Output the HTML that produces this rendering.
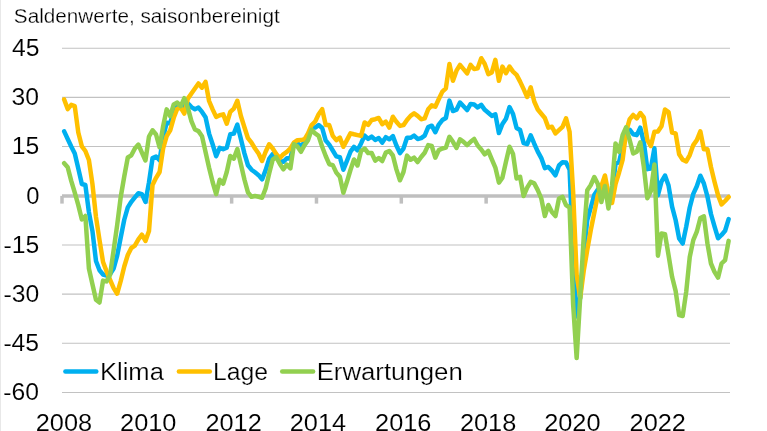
<!DOCTYPE html><html><head><meta charset="utf-8"><title>chart</title><style>
html,body{margin:0;padding:0;background:#fff}
body{width:767px;height:431px;overflow:hidden;position:relative;font-family:"Liberation Sans",sans-serif;color:#000}
svg{display:block}
</style></head><body>
<svg width="767" height="431" viewBox="0 0 767 431" style="position:absolute;left:0;top:0">
<rect x="0" y="0" width="767" height="431" fill="#fff"/>
<rect x="0" y="0" width="1" height="431" fill="#e8e8e8"/>
<line x1="62.0" y1="48.20" x2="730.0" y2="48.20" stroke="#c2c2c2" stroke-width="1.05"/>
<line x1="62.0" y1="97.39" x2="730.0" y2="97.39" stroke="#c2c2c2" stroke-width="1.05"/>
<line x1="62.0" y1="146.57" x2="730.0" y2="146.57" stroke="#c2c2c2" stroke-width="1.05"/>
<line x1="62.0" y1="244.94" x2="730.0" y2="244.94" stroke="#c2c2c2" stroke-width="1.05"/>
<line x1="62.0" y1="294.13" x2="730.0" y2="294.13" stroke="#c2c2c2" stroke-width="1.05"/>
<line x1="62.0" y1="343.31" x2="730.0" y2="343.31" stroke="#c2c2c2" stroke-width="1.05"/>
<line x1="62.0" y1="392.50" x2="730.0" y2="392.50" stroke="#c2c2c2" stroke-width="1.05"/>
<line x1="62.0" y1="195.90" x2="730.0" y2="195.90" stroke="#bfbfbf" stroke-width="3.5"/>
<line x1="62.00" y1="195.90" x2="62.00" y2="203.6" stroke="#bfbfbf" stroke-width="3.5"/>
<line x1="146.83" y1="195.90" x2="146.83" y2="203.6" stroke="#bfbfbf" stroke-width="3.5"/>
<line x1="231.65" y1="195.90" x2="231.65" y2="203.6" stroke="#bfbfbf" stroke-width="3.5"/>
<line x1="316.48" y1="195.90" x2="316.48" y2="203.6" stroke="#bfbfbf" stroke-width="3.5"/>
<line x1="401.30" y1="195.90" x2="401.30" y2="203.6" stroke="#bfbfbf" stroke-width="3.5"/>
<line x1="486.13" y1="195.90" x2="486.13" y2="203.6" stroke="#bfbfbf" stroke-width="3.5"/>
<line x1="570.95" y1="195.90" x2="570.95" y2="203.6" stroke="#bfbfbf" stroke-width="3.5"/>
<line x1="655.78" y1="195.90" x2="655.78" y2="203.6" stroke="#bfbfbf" stroke-width="3.5"/>
<polyline fill="none" stroke="#00b0f0" stroke-width="4.5" stroke-linejoin="round" stroke-linecap="round" points="64.17,131.40 67.70,139.02 71.24,146.50 74.77,153.50 78.30,168.50 81.84,184.00 85.37,185.00 88.91,212.12 92.44,231.07 95.98,261.00 99.51,270.30 103.05,274.50 106.58,275.50 110.11,274.00 113.65,268.50 117.18,255.68 120.72,237.50 124.25,219.75 127.79,207.38 131.32,201.82 134.86,197.45 138.39,193.25 141.92,194.10 145.46,201.88 148.99,182.38 152.53,158.12 156.06,156.53 159.60,160.32 163.13,137.20 166.66,122.80 170.20,123.20 173.73,111.10 177.27,105.60 180.80,106.95 184.34,105.90 187.87,103.35 191.41,107.10 194.94,109.20 198.47,107.55 202.01,111.92 205.54,117.32 209.08,133.60 212.61,144.25 216.15,156.23 219.68,147.78 223.21,149.20 226.75,147.75 230.28,134.22 233.82,133.65 237.35,124.70 240.89,138.98 244.42,153.35 247.96,165.25 251.49,169.70 255.02,172.25 258.56,175.15 262.09,179.35 265.63,170.15 269.16,158.85 272.70,154.10 276.23,155.60 279.77,161.05 283.30,161.80 286.83,158.25 290.37,158.40 293.90,143.45 297.44,143.30 300.97,145.95 304.51,142.20 308.04,136.75 311.57,127.40 315.11,127.55 318.64,125.05 322.18,128.00 325.71,140.55 329.25,144.65 332.78,150.50 336.32,156.35 339.85,157.20 343.38,169.75 346.92,160.95 350.45,151.70 353.99,146.90 357.52,150.30 361.06,143.45 364.59,135.50 368.12,138.90 371.66,136.50 375.19,139.90 378.73,138.00 382.26,142.60 385.80,137.15 389.33,139.30 392.87,136.10 396.40,145.55 399.93,153.10 403.47,148.55 407.00,137.80 410.54,137.85 414.07,135.55 417.61,138.95 421.14,138.10 424.68,135.55 428.21,127.15 431.74,125.70 435.28,132.20 438.81,124.55 442.35,120.05 445.88,117.95 449.42,100.60 452.95,111.05 456.48,109.67 460.02,102.50 463.55,106.22 467.09,110.08 470.62,103.97 474.16,104.53 477.69,107.42 481.23,104.88 484.76,109.83 488.29,112.78 491.83,115.93 495.36,114.42 498.90,133.00 502.43,124.00 505.97,118.77 509.50,107.07 513.03,113.95 516.57,127.98 520.10,130.05 523.64,143.18 527.17,144.15 530.71,135.30 534.24,143.72 537.78,151.60 541.31,158.07 544.84,168.10 548.38,166.95 551.91,170.60 555.45,175.30 558.98,165.50 562.52,162.22 566.05,162.60 569.59,169.65 573.12,252.00 576.65,316.50 580.19,297.50 583.72,254.00 587.26,220.10 590.79,207.50 594.33,194.75 597.86,189.50 601.39,194.00 604.93,180.75 608.46,201.25 612.00,194.50 615.53,163.70 619.07,162.15 622.60,147.55 626.14,129.50 629.67,129.65 633.20,134.25 636.74,135.10 640.27,127.70 643.81,142.10 647.34,169.15 650.88,168.50 654.41,148.20 657.94,195.18 661.48,181.62 665.01,175.50 668.55,185.57 672.08,206.57 675.62,220.00 679.15,238.50 682.69,243.50 686.22,226.65 689.75,207.53 693.29,193.85 696.82,186.30 700.36,175.70 703.89,183.50 707.43,196.50 710.96,214.00 714.50,226.30 718.03,238.23 721.56,234.95 725.10,230.73 728.63,219.07"/>
<polyline fill="none" stroke="#ffc000" stroke-width="4.5" stroke-linejoin="round" stroke-linecap="round" points="64.17,99.40 67.70,109.10 71.24,104.90 74.77,106.20 78.30,132.50 81.84,146.30 85.37,151.00 88.91,160.00 92.44,184.00 95.98,217.00 99.51,240.00 103.05,262.00 106.58,271.40 110.11,279.80 113.65,288.10 117.18,293.70 120.72,281.00 124.25,266.50 127.79,255.00 131.32,248.00 134.86,245.70 138.39,239.40 141.92,234.70 145.46,241.00 148.99,231.00 152.53,185.00 156.06,177.80 159.60,172.00 163.13,148.30 166.66,136.20 170.20,130.30 173.73,117.80 177.27,108.60 180.80,107.80 184.34,113.60 187.87,98.60 191.41,93.50 194.94,88.50 198.47,83.50 202.01,87.70 205.54,81.80 209.08,101.00 212.61,109.40 216.15,116.90 219.68,115.30 223.21,114.40 226.75,123.60 230.28,111.90 233.82,108.60 237.35,100.80 240.89,116.00 244.42,127.20 247.96,138.20 251.49,142.60 255.02,148.50 258.56,153.50 262.09,161.00 265.63,151.80 269.16,144.30 272.70,148.50 276.23,154.00 279.77,158.30 283.30,154.30 286.83,151.80 290.37,148.50 293.90,142.60 297.44,140.20 300.97,140.10 304.51,139.30 308.04,133.40 311.57,125.10 315.11,121.70 318.64,114.20 322.18,109.20 325.71,125.10 329.25,125.10 332.78,135.90 336.32,140.10 339.85,137.60 343.38,146.80 346.92,140.10 350.45,133.40 353.99,134.30 357.52,135.10 361.06,135.90 364.59,122.50 368.12,124.80 371.66,120.00 375.19,119.20 378.73,118.00 382.26,124.20 385.80,121.70 389.33,127.60 392.87,116.70 396.40,121.70 399.93,125.90 403.47,125.10 407.00,120.00 410.54,115.90 414.07,113.40 417.61,115.90 421.14,119.20 424.68,118.40 428.21,109.20 431.74,105.40 435.28,106.70 438.81,99.00 442.35,91.60 445.88,88.30 449.42,64.00 452.95,80.80 456.48,70.70 460.02,64.90 463.55,69.10 467.09,73.40 470.62,64.90 474.16,69.10 477.69,68.20 481.23,58.20 484.76,64.00 488.29,74.10 491.83,72.40 495.36,59.90 498.90,80.80 502.43,66.60 505.97,73.20 509.50,66.60 513.03,71.60 516.57,74.90 520.10,81.60 523.64,89.10 527.17,97.00 530.71,87.40 534.24,101.50 537.78,109.50 541.31,113.80 544.84,118.00 548.38,127.60 551.91,126.80 555.45,133.40 558.98,130.10 562.52,126.80 566.05,118.40 569.59,131.80 573.12,192.00 576.65,275.00 580.19,298.00 583.72,271.00 587.26,250.00 590.79,230.00 594.33,212.50 597.86,195.00 601.39,186.00 604.93,175.50 608.46,194.00 612.00,203.00 615.53,184.00 619.07,172.50 622.60,160.00 626.14,131.70 629.67,119.20 633.20,115.00 636.74,118.40 640.27,113.00 643.81,117.50 647.34,140.00 650.88,146.00 654.41,131.80 657.94,131.40 661.48,126.30 665.01,109.50 668.55,112.00 672.08,132.50 675.62,133.40 679.15,154.30 682.69,159.70 686.22,161.40 689.75,155.10 693.29,145.10 696.82,140.10 700.36,131.40 703.89,149.30 707.43,149.30 710.96,167.00 714.50,181.70 718.03,195.10 721.56,204.50 725.10,201.00 728.63,197.00"/>
<polyline fill="none" stroke="#92d050" stroke-width="4.5" stroke-linejoin="round" stroke-linecap="round" points="64.17,163.20 67.70,167.20 71.24,180.90 74.77,192.60 78.30,205.10 81.84,219.50 85.37,216.00 88.91,268.50 92.44,284.30 95.98,299.80 99.51,302.50 103.05,280.60 106.58,281.40 110.11,274.70 113.65,250.00 117.18,225.00 120.72,197.00 124.25,176.50 127.79,157.50 131.32,155.30 134.86,148.50 138.39,144.60 141.92,152.70 145.46,160.50 148.99,136.50 152.53,130.30 156.06,134.50 159.60,147.30 163.13,126.10 166.66,109.40 170.20,116.10 173.73,104.40 177.27,102.60 180.80,106.10 184.34,98.20 187.87,107.80 191.41,121.10 194.94,129.50 198.47,131.10 202.01,136.20 205.54,151.90 209.08,167.80 212.61,182.00 216.15,194.20 219.68,179.80 223.21,183.60 226.75,172.00 230.28,156.00 233.82,158.60 237.35,149.00 240.89,164.30 244.42,179.50 247.96,192.30 251.49,196.80 255.02,196.00 258.56,196.80 262.09,197.70 265.63,188.50 269.16,173.40 272.70,159.70 276.23,157.20 279.77,163.80 283.30,169.30 286.83,164.70 290.37,168.30 293.90,144.30 297.44,146.40 300.97,151.80 304.51,145.10 308.04,140.10 311.57,129.70 315.11,133.40 318.64,135.90 322.18,146.80 325.71,156.00 329.25,164.20 332.78,165.10 336.32,172.60 339.85,176.80 343.38,192.70 346.92,181.80 350.45,170.00 353.99,159.50 357.52,165.50 361.06,151.00 364.59,148.50 368.12,153.00 371.66,153.00 375.19,160.60 378.73,158.00 382.26,161.00 385.80,152.60 389.33,151.00 392.87,155.50 396.40,169.40 399.93,180.30 403.47,172.00 407.00,155.60 410.54,159.80 414.07,157.70 417.61,162.00 421.14,157.00 424.68,152.70 428.21,145.10 431.74,146.00 435.28,157.70 438.81,150.10 442.35,148.50 445.88,147.60 449.42,136.80 452.95,141.80 456.48,148.00 460.02,139.30 463.55,141.80 467.09,145.10 470.62,141.80 474.16,139.00 477.69,145.50 481.23,149.50 484.76,154.30 488.29,151.00 491.83,159.30 495.36,167.60 498.90,182.60 502.43,177.60 505.97,161.70 509.50,146.70 513.03,154.00 516.57,178.40 520.10,176.80 523.64,196.00 527.17,187.60 530.71,181.80 534.24,183.40 537.78,190.10 541.31,198.50 544.84,216.00 548.38,205.00 551.91,212.00 555.45,216.00 558.98,198.50 562.52,196.90 566.05,205.20 569.59,207.50 573.12,304.00 576.65,358.00 580.19,297.00 583.72,237.00 587.26,190.20 590.79,185.00 594.33,177.00 597.86,184.00 601.39,202.00 604.93,186.00 608.46,208.50 612.00,186.00 615.53,143.40 619.07,151.80 622.60,135.10 626.14,127.30 629.67,140.10 633.20,153.50 636.74,151.80 640.27,142.40 643.81,166.70 647.34,198.30 650.88,191.00 654.41,164.60 657.94,255.70 661.48,233.40 665.01,234.20 668.55,255.10 672.08,276.80 675.62,290.90 679.15,315.10 682.69,316.00 686.22,291.80 689.75,257.00 693.29,240.10 696.82,231.70 700.36,218.00 703.89,216.40 707.43,243.40 710.96,263.50 714.50,271.80 718.03,277.60 721.56,263.50 725.10,260.10 728.63,240.90"/>
<line x1="65.4" y1="371.5" x2="96.3" y2="371.5" stroke="#00b0f0" stroke-width="4.5" stroke-linecap="round"/>
<line x1="178.9" y1="371.5" x2="209.8" y2="371.5" stroke="#ffc000" stroke-width="4.5" stroke-linecap="round"/>
<line x1="282.2" y1="371.5" x2="313.1" y2="371.5" stroke="#92d050" stroke-width="4.5" stroke-linecap="round"/>
<g style="filter:grayscale(1)">
<text transform="translate(13.85,22.50) scale(1.0462,1)" font-family="Liberation Sans, sans-serif" font-size="19.8" fill="#000" stroke="#fff" stroke-width="0.25">Saldenwerte, saisonbereinigt</text>
<text transform="translate(11.90,56.10) scale(1.0000,1)" font-family="Liberation Sans, sans-serif" font-size="24.7" fill="#000" stroke="#fff" stroke-width="0.1">45</text>
<text transform="translate(11.55,105.27) scale(1.0000,1)" font-family="Liberation Sans, sans-serif" font-size="24.7" fill="#000" stroke="#fff" stroke-width="0.1">30</text>
<text transform="translate(11.80,154.44) scale(1.0000,1)" font-family="Liberation Sans, sans-serif" font-size="24.7" fill="#000" stroke="#fff" stroke-width="0.1">15</text>
<text transform="translate(26.30,203.61) scale(0.9615,1)" font-family="Liberation Sans, sans-serif" font-size="24.7" fill="#000" stroke="#fff" stroke-width="0.1">0</text>
<text transform="translate(3.55,252.79) scale(1.0000,1)" font-family="Liberation Sans, sans-serif" font-size="24.7" fill="#000" stroke="#fff" stroke-width="0.1">-15</text>
<text transform="translate(3.55,301.96) scale(1.0000,1)" font-family="Liberation Sans, sans-serif" font-size="24.7" fill="#000" stroke="#fff" stroke-width="0.1">-30</text>
<text transform="translate(3.40,351.13) scale(1.0000,1)" font-family="Liberation Sans, sans-serif" font-size="24.7" fill="#000" stroke="#fff" stroke-width="0.1">-45</text>
<text transform="translate(3.30,400.30) scale(1.0000,1)" font-family="Liberation Sans, sans-serif" font-size="24.7" fill="#000" stroke="#fff" stroke-width="0.1">-60</text>
<text transform="translate(35.78,430.90) scale(1.0250,1)" font-family="Liberation Sans, sans-serif" font-size="24.7" fill="#000" stroke="#fff" stroke-width="0.1">2008</text>
<text transform="translate(120.09,430.90) scale(1.0250,1)" font-family="Liberation Sans, sans-serif" font-size="24.7" fill="#000" stroke="#fff" stroke-width="0.1">2010</text>
<text transform="translate(205.43,430.90) scale(1.0250,1)" font-family="Liberation Sans, sans-serif" font-size="24.7" fill="#000" stroke="#fff" stroke-width="0.1">2012</text>
<text transform="translate(289.74,430.90) scale(1.0250,1)" font-family="Liberation Sans, sans-serif" font-size="24.7" fill="#000" stroke="#fff" stroke-width="0.1">2014</text>
<text transform="translate(375.08,430.90) scale(1.0250,1)" font-family="Liberation Sans, sans-serif" font-size="24.7" fill="#000" stroke="#fff" stroke-width="0.1">2016</text>
<text transform="translate(459.91,430.90) scale(1.0250,1)" font-family="Liberation Sans, sans-serif" font-size="24.7" fill="#000" stroke="#fff" stroke-width="0.1">2018</text>
<text transform="translate(544.22,430.90) scale(1.0250,1)" font-family="Liberation Sans, sans-serif" font-size="24.7" fill="#000" stroke="#fff" stroke-width="0.1">2020</text>
<text transform="translate(629.56,430.90) scale(1.0250,1)" font-family="Liberation Sans, sans-serif" font-size="24.7" fill="#000" stroke="#fff" stroke-width="0.1">2022</text>
<text transform="translate(99.95,379.70) scale(1.0350,1)" font-family="Liberation Sans, sans-serif" font-size="24.7" fill="#000" stroke="#fff" stroke-width="0.22">Klima</text>
<text transform="translate(213.00,379.70) scale(1.0000,1)" font-family="Liberation Sans, sans-serif" font-size="24.7" fill="#000" stroke="#fff" stroke-width="0.22">Lage</text>
<text transform="translate(316.66,379.70) scale(1.0435,1)" font-family="Liberation Sans, sans-serif" font-size="24.7" fill="#000" stroke="#fff" stroke-width="0.22">Erwartungen</text>
</g>
</svg>
</body></html>
